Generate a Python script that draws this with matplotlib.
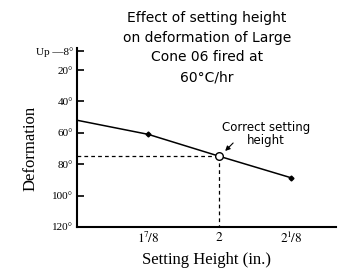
import matplotlib
matplotlib.use("Agg")
import matplotlib.pyplot as plt

# data
heights = [1.75, 1.875, 2.0, 2.125]
deformation = [52, 61, 75, 88.6]
marker_x = [1.875, 2.125]
marker_y = [61, 88.6]
correct_x = 2.0
correct_y = 75
xtick_vals = [1.875, 2.0, 2.125]
xtick_labels = [r"$1^{7}\!/8$", r"$2$", r"$2^{1}\!/8$"]
ytick_vals = [8, 20, 40, 60, 80, 100, 120]
ytick_labels = ["Up —8°", "20°", "40°", "60°", "80°", "100°", "120°"]

plt.rcParams["mathtext.fontset"] = "stix"
serif = "Liberation Serif"
sans = "DejaVu Sans"

fig = plt.figure(figsize=(3.41, 2.75), dpi=100)
ax = fig.add_axes([0.226, 0.175, 0.76, 0.65])

ax.plot(heights, deformation, color="black", lw=1.1, zorder=3)
ax.plot(marker_x, marker_y, linestyle="none", marker="D", ms=2.5, color="black", zorder=4)
ax.plot([1.75, correct_x], [correct_y, correct_y], ls=(0, (3, 2.5)), color="black", lw=0.9)
ax.plot([correct_x, correct_x], [correct_y, 120], ls=(0, (3, 2.5)), color="black", lw=0.9)
ax.plot([correct_x], [correct_y], marker="o", ms=5.5, mfc="white", mec="black", mew=1.0, zorder=5)

ax.set_xlim(1.75, 2.205)
ax.set_ylim(120, 6)
ax.set_xticks(xtick_vals)
ax.set_xticklabels(xtick_labels, fontsize=9.5)
ax.set_yticks(ytick_vals)
ax.set_yticklabels(ytick_labels, fontsize=8, family=serif)
ax.tick_params(axis="y", direction="in", length=5, width=1.2, pad=3)
ax.tick_params(axis="x", length=0, pad=3)

for s in ["top", "right"]:
    ax.spines[s].set_visible(False)
ax.spines["left"].set_linewidth(1.5)
ax.spines["bottom"].set_linewidth(1.5)

ax.set_ylabel("Deformation", fontsize=12, family=serif)
ax.yaxis.set_label_coords(-0.15, 0.44)
ax.set_xlabel("Setting Height (in.)", fontsize=12, family=serif, labelpad=4)

fig.text(0.607, 0.96, "Effect of setting height\non deformation of Large\nCone 06 fired at\n60°C/hr",
         ha="center", va="top", fontsize=10, family=sans, linespacing=1.52)

ax.text(2.082, 61, "Correct setting\nheight", ha="center", va="center", fontsize=8.5,
        family=sans, linespacing=0.98)
ax.annotate("", xy=(2.010, 71.6), xytext=(2.024, 66.5),
            arrowprops=dict(arrowstyle="-|>", color="black", lw=0.8, mutation_scale=7,
                            shrinkA=0, shrinkB=0))

fig.savefig("out.png", dpi=100)
